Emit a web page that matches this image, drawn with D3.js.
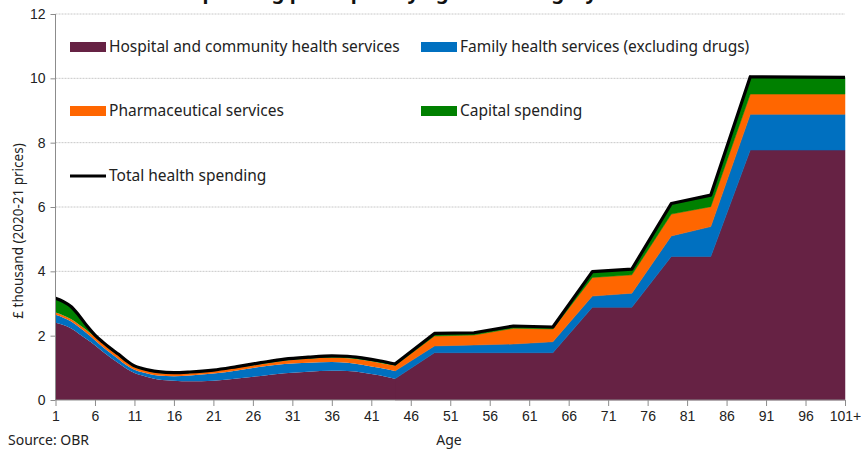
<!DOCTYPE html>
<html lang="en">
<head>
  <meta charset="UTF-8" />
  <title>Health spending per capita by age and category</title>
  <script src="https://d3js.org/d3.v7.min.js"></script>
  <style>
    body { margin: 0; background: #fff; }
    svg { display: block; font-family: "Noto Sans", sans-serif; }
    .grid line { stroke: #c8c8c8; stroke-dasharray: 2,1; }
    .axis path, .axis line { stroke: #8c8c8c; }
    .axis text { font-size: 14px; fill: #222; }
    .legend text { font-size: 15.5px; fill: #222; }
  </style>
</head>
<body>
<svg width="861" height="453"></svg>
<script>
  // values, £ thousand per person
  const ages = [1,2,3,4,5,6,7,8,9,10,11,12,13,14,16,18,21,24,27,30,33,36,38,40,42,44,49,54,59,64,69,74,79,84,89,101];
  const hospital = [2.40,2.33,2.22,2.05,1.88,1.70,1.50,1.31,1.14,0.97,0.84,0.76,0.69,0.64,0.60,0.58,0.60,0.67,0.75,0.83,0.88,0.91,0.90,0.85,0.77,0.66,1.47,1.47,1.47,1.47,2.88,2.88,4.46,4.46,7.77,7.77];
  const family = [0.25,0.23,0.22,0.21,0.19,0.16,0.15,0.14,0.13,0.11,0.10,0.10,0.11,0.12,0.14,0.18,0.22,0.25,0.28,0.29,0.28,0.27,0.26,0.24,0.23,0.24,0.21,0.24,0.27,0.34,0.35,0.44,0.64,0.93,1.11,1.11];
  const pharma = [0.07,0.07,0.07,0.08,0.09,0.10,0.10,0.10,0.10,0.09,0.08,0.08,0.08,0.08,0.07,0.07,0.07,0.08,0.08,0.10,0.12,0.13,0.14,0.15,0.16,0.17,0.31,0.31,0.49,0.40,0.58,0.57,0.68,0.62,0.63,0.63];
  const capital = [0.44,0.43,0.39,0.28,0.14,0.06,0.05,0.05,0.05,0.05,0.04,0.04,0.04,0.04,0.04,0.04,0.04,0.04,0.05,0.05,0.05,0.06,0.06,0.06,0.06,0.05,0.08,0.07,0.07,0.06,0.18,0.18,0.33,0.36,0.54,0.52];
  const xTicks = [1,6,11,16,21,26,31,36,41,46,51,56,61,66,71,76,81,86,91,96,101];
  const yTicks = [0,2,4,6,8,10,12];
  const lastSingleAge = 44; // single years up to here, five-year groups after

  const keys = ["hospital","family","pharma","capital"];
  const names = {
    hospital: "Hospital and community health services",
    family: "Family health services (excluding drugs)",
    pharma: "Pharmaceutical services",
    capital: "Capital spending"
  };
  const colors = { hospital: "#662244", family: "#0070c0", pharma: "#ff6600", capital: "#008000" };

  const rows = ages.map((a, i) => ({
    age: a, hospital: hospital[i], family: family[i], pharma: pharma[i], capital: capital[i]
  }));

  const svg = d3.select("svg");
  const x = d3.scaleLinear().domain([1, 101]).range([55.5, 845]);
  const y = d3.scaleLinear().domain([0, 12]).range([400, 14]);

  // title, mostly cropped off the top in the original
  svg.append("text")
    .attr("x", 597).attr("y", -1)
    .attr("text-anchor", "end")
    .style("font-size", "20px").style("font-weight", "bold").style("fill", "#111")
    .text("Health spending per capita by age and category");

  // gridlines
  svg.append("g").attr("class", "grid")
    .selectAll("line").data(yTicks.slice(1)).join("line")
    .attr("x1", x(1)).attr("x2", x(101))
    .attr("y1", d => y(d)).attr("y2", d => y(d));

  const stack = d3.stack().keys(keys)(rows);
  const smoothPart = d => d.data.age <= lastSingleAge;
  const bandPart = d => d.data.age >= lastSingleAge;
  const areaSmooth = d3.area().curve(d3.curveMonotoneX)
    .x(d => x(d.data.age)).y0(d => y(d[0])).y1(d => y(d[1]));
  const areaLinear = d3.area()
    .x(d => x(d.data.age)).y0(d => y(d[0])).y1(d => y(d[1]));

  const layers = svg.append("g").selectAll("g").data(stack).join("g");
  layers.append("path")
    .attr("fill", d => colors[d.key])
    .attr("d", d => areaSmooth(d.filter(smoothPart)));
  layers.append("path")
    .attr("fill", d => colors[d.key])
    .attr("stroke", d => colors[d.key]).attr("stroke-width", 0.5)
    .attr("d", d => areaLinear(d.filter(bandPart)));

  const sum = d => d.hospital + d.family + d.pharma + d.capital;
  const lineSmooth = d3.line().curve(d3.curveMonotoneX).x(d => x(d.age)).y(d => y(sum(d)));
  const lineLinear = d3.line().x(d => x(d.age)).y(d => y(sum(d)));
  const totalPath = lineSmooth(rows.filter(d => d.age <= lastSingleAge)) +
    lineLinear(rows.filter(d => d.age >= lastSingleAge)).replace(/^M/, "L");
  svg.append("path")
    .attr("fill", "none").attr("stroke", "#000")
    .attr("stroke-width", 3.2).attr("stroke-linejoin", "round")
    .attr("d", totalPath);

  // axes
  svg.append("g").attr("class", "axis")
    .attr("transform", "translate(0,400)")
    .call(d3.axisBottom(x).tickValues(xTicks).tickSize(6).tickPadding(5)
      .tickFormat(d => d === 101 ? "101+" : d))
    .call(g => g.select(".domain").attr("d", `M${x(1)},0H${x(101)}`));

  svg.append("g").attr("class", "axis")
    .attr("transform", `translate(${x(1)},0)`)
    .call(d3.axisLeft(y).tickValues(yTicks).tickSize(5).tickPadding(5))
    .call(g => g.select(".domain").attr("d", `M0,${y(12)}V${y(0)}`));

  svg.append("text")
    .attr("transform", "translate(23,231) rotate(-90)")
    .attr("text-anchor", "middle")
    .style("font-size", "13.5px").style("fill", "#222")
    .text("£ thousand (2020-21 prices)");

  svg.append("text")
    .attr("x", 449).attr("y", 445).attr("text-anchor", "middle")
    .style("font-size", "14px").style("fill", "#222")
    .text("Age");

  svg.append("text")
    .attr("x", 8).attr("y", 445)
    .style("font-size", "14px").style("fill", "#222")
    .text("Source: OBR");

  // legend
  const legendItems = [
    { key: "hospital", lx: 70, ly: 47 },
    { key: "family", lx: 421, ly: 47 },
    { key: "pharma", lx: 70, ly: 111 },
    { key: "capital", lx: 421, ly: 111 }
  ];
  const legend = svg.append("g").attr("class", "legend");
  legendItems.forEach(it => {
    legend.append("rect")
      .attr("x", it.lx).attr("y", it.ly - 5).attr("width", 36).attr("height", 10)
      .attr("fill", colors[it.key]);
    legend.append("text")
      .attr("x", it.lx + 39).attr("y", it.ly + 5)
      .text(names[it.key]);
  });
  legend.append("line")
    .attr("x1", 70).attr("x2", 106).attr("y1", 176).attr("y2", 176)
    .attr("stroke", "#000").attr("stroke-width", 3);
  legend.append("text")
    .attr("x", 109).attr("y", 181)
    .text("Total health spending");
</script>
</body>
</html>
